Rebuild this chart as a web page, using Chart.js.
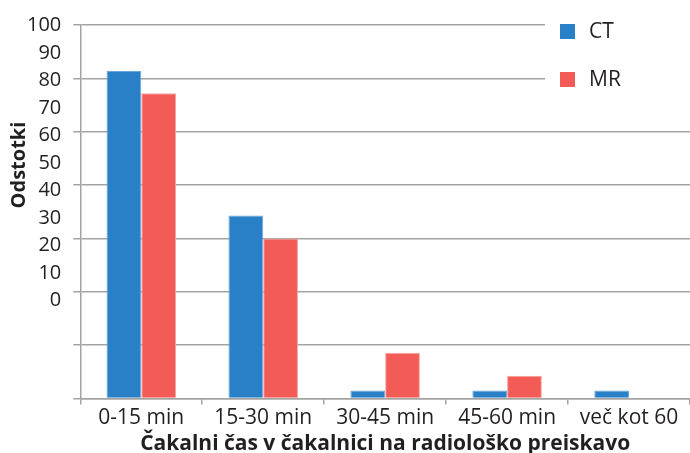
<!DOCTYPE html>
<html>
<head>
<meta charset="utf-8">
<script src="https://cdn.jsdelivr.net/npm/chart.js@4.4.1/dist/chart.umd.min.js"></script>
<style>
    html, body { margin: 0; padding: 0; background: #fff; }
    #wrap { width: 690px; height: 453px; position: relative; }
</style>
</head>
<body>
<div id="wrap"><canvas id="bar-chart"></canvas></div>
<script>
const categories = ['0-15 min', '15-30 min', '30-45 min', '45-60 min', 'več kot 60'];
const ctValues = [61.4, 34.3, 1.5, 1.5, 1.5];
const mrValues = [57.2, 30.0, 8.6, 4.3, 0];
const yTickLabels = [0, 10, 20, 30, 40, 50, 60, 70, 80, 90, 100];

const textColor = '#231f20';
const gridColor = '#a3a3a3';
const fontFamily = "'Open Sans', sans-serif";

// legend sits inside the plot on a white patch, like the original
const boxLegend = {
    id: 'boxLegend',
    afterDatasetsDraw(chart) {
        const ctx = chart.ctx;
        ctx.save();
        ctx.fillStyle = '#fff';
        ctx.fillRect(545, 12, 145, 85);
        chart.data.datasets.forEach((ds, i) => {
            const y = 24 + i * 48;
            ctx.fillStyle = ds.backgroundColor;
            ctx.fillRect(560, y, 15, 15);
            ctx.fillStyle = textColor;
            ctx.font = '21px ' + fontFamily;
            ctx.textBaseline = 'middle';
            ctx.fillText(ds.label, 589, y + 8);
        });
        ctx.restore();
    }
};

const ctx = document.getElementById('bar-chart').getContext('2d');
const barChart = new Chart(ctx, {
    type: 'bar',
    data: {
        labels: categories,
        datasets: [{
            label: 'CT',
            data: ctValues,
            backgroundColor: '#2a80c7',
            borderColor: '#6aa8dc',
            borderWidth: 1,
            yAxisID: 'y'
        }, {
            label: 'MR',
            data: mrValues,
            backgroundColor: '#f25b56',
            borderColor: '#f8a3a0',
            borderWidth: 1,
            yAxisID: 'y'
        }]
    },
    options: {
        responsive: true,
        maintainAspectRatio: false,
        animation: false,
        layout: { padding: { top: 25, right: 0, left: 7, bottom: -4 } },
        datasets: { bar: { categoryPercentage: 0.57, barPercentage: 1 } },
        plugins: {
            legend: { display: false },
            tooltip: { enabled: false }
        },
        scales: {
            x: {
                offset: true,
                grid: { display: true, drawOnChartArea: false, offset: true, color: gridColor, lineWidth: 1.5, tickLength: 6 },
                border: { display: true, color: gridColor, width: 1.5 },
                ticks: { color: textColor, font: { family: fontFamily, size: 21 }, padding: 1, maxRotation: 0 },
                title: {
                    display: true,
                    text: 'Čakalni čas v čakalnici na radiološko preiskavo',
                    color: textColor,
                    font: { family: fontFamily, size: 21, weight: 'bold' },
                    padding: { top: 0, bottom: 0 }
                }
            },
            y: {
                position: 'left',
                weight: 0,
                min: 0,
                max: 70,
                ticks: { stepSize: 10, display: false },
                grid: { color: gridColor, lineWidth: 1.5, tickLength: 7 },
                border: { display: true, color: gridColor, width: 1.5 }
            },
            yLabels: {
                position: 'left',
                weight: 1,
                min: -35.7,
                max: 100.2,
                afterBuildTicks: scale => { scale.ticks = yTickLabels.map(v => ({ value: v })); },
                grid: { display: false },
                border: { display: false },
                ticks: { color: textColor, font: { family: fontFamily, size: 20 }, padding: 4 },
                title: {
                    display: true,
                    // leading spaces lift the word above the axis centre, as in the original
                    text: ' '.repeat(18) + 'Odstotki',
                    color: textColor,
                    font: { family: fontFamily, size: 20, weight: 'bold' },
                    padding: { top: 0, bottom: -8 }
                }
            }
        }
    },
    plugins: [boxLegend]
});
</script>
</body>
</html>
